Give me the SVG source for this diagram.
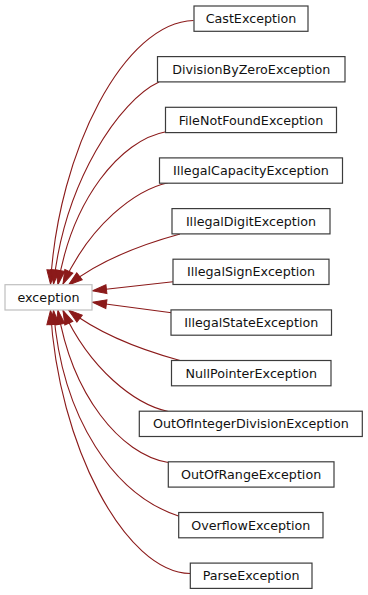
<svg xmlns="http://www.w3.org/2000/svg" width="368" height="595" viewBox="0 0 368 595">
  <style>
    .node rect { fill: #ffffff; stroke: #3c3c3c; stroke-width: 1.2; }
    .root rect { fill: #ffffff; stroke: #bfbfbf; stroke-width: 1.2; }
    text { font-family: "DejaVu Sans", Verdana, sans-serif; font-size: 12.7px; fill: #111111; text-anchor: middle; }
    .edges path { fill: none; stroke: #8b1a1a; stroke-width: 1.1; marker-end: url(#arrow); }
  </style>
  <defs>
    <marker id="arrow" markerUnits="userSpaceOnUse" viewBox="0 -5 14 10" refX="14" refY="0" markerWidth="14" markerHeight="10" orient="auto" overflow="visible">
      <path d="M0,-4.4 L14,0 L0,4.4 z" fill="#8b1a1a" stroke="#8b1a1a" stroke-width="1"/>
    </marker>
  </defs>

  <!-- inheritance edges: each child class points back to the base class -->
  <g id="edges" class="edges">
    <path d="M193.5,20.5 C125,22 58,150 50.5,284"/>
    <path d="M159,82 C120,100 65,180 53.5,284"/>
    <path d="M166,131.7 C120,140 72,200 58,284.5"/>
    <path d="M168,182.7 C135,190 90,225 63,284"/>
    <path d="M180,234 C140,245 100,260 68.5,285"/>
    <path d="M173,281.7 L92.5,290.7"/>
    <path d="M171.5,312.7 L92.5,302.3"/>
    <path d="M180,360.5 C140,349.5 100,334.5 68.5,310"/>
    <path d="M168.3,411.5 C135,404.5 90,369.5 63,310.5"/>
    <path d="M168.3,462.5 C120,454.5 72,394.5 58,310.3"/>
    <path d="M178.5,516 C115,495 62,420 53.5,310.5"/>
    <path d="M190.3,573.5 C125,572.5 58,444.5 50.5,310.5"/>
  </g>

  <!-- base class -->
  <g id="exception" class="root">
    <rect x="5" y="284.7" width="87" height="25.3"/>
    <text x="48.5" y="301.9">exception</text>
  </g>

  <!-- derived classes -->
  <g id="CastException" class="node">
    <rect x="194" y="6" width="114" height="25.3"/>
    <text x="251" y="23.2">CastException</text>
  </g>
  <g id="DivisionByZeroException" class="node">
    <rect x="157.5" y="56.6" width="187.5" height="25.3"/>
    <text x="251.25" y="73.8">DivisionByZeroException</text>
  </g>
  <g id="FileNotFoundException" class="node">
    <rect x="165.5" y="107.3" width="171" height="25.3"/>
    <text x="251" y="124.5">FileNotFoundException</text>
  </g>
  <g id="IllegalCapacityException" class="node">
    <rect x="159.5" y="157.9" width="183" height="25.3"/>
    <text x="251" y="175.1">IllegalCapacityException</text>
  </g>
  <g id="IllegalDigitException" class="node">
    <rect x="172" y="208.6" width="158" height="25.3"/>
    <text x="251" y="225.8">IllegalDigitException</text>
  </g>
  <g id="IllegalSignException" class="node">
    <rect x="173" y="259.2" width="156" height="25.3"/>
    <text x="251" y="276.4">IllegalSignException</text>
  </g>
  <g id="IllegalStateException" class="node">
    <rect x="171" y="309.9" width="160.5" height="25.3"/>
    <text x="251.25" y="327.1">IllegalStateException</text>
  </g>
  <g id="NullPointerException" class="node">
    <rect x="171.5" y="360.5" width="159.5" height="25.3"/>
    <text x="251.25" y="377.7">NullPointerException</text>
  </g>
  <g id="OutOfIntegerDivisionException" class="node">
    <rect x="139.3" y="411.2" width="223" height="25.3"/>
    <text x="250.8" y="428.4">OutOfIntegerDivisionException</text>
  </g>
  <g id="OutOfRangeException" class="node">
    <rect x="168.3" y="461.8" width="165.7" height="25.3"/>
    <text x="251.15" y="479">OutOfRangeException</text>
  </g>
  <g id="OverflowException" class="node">
    <rect x="178.7" y="512.5" width="144.3" height="25.3"/>
    <text x="250.85" y="529.7">OverflowException</text>
  </g>
  <g id="ParseException" class="node">
    <rect x="190.3" y="563.1" width="121.7" height="25.3"/>
    <text x="251.15" y="580.3">ParseException</text>
  </g>
</svg>
